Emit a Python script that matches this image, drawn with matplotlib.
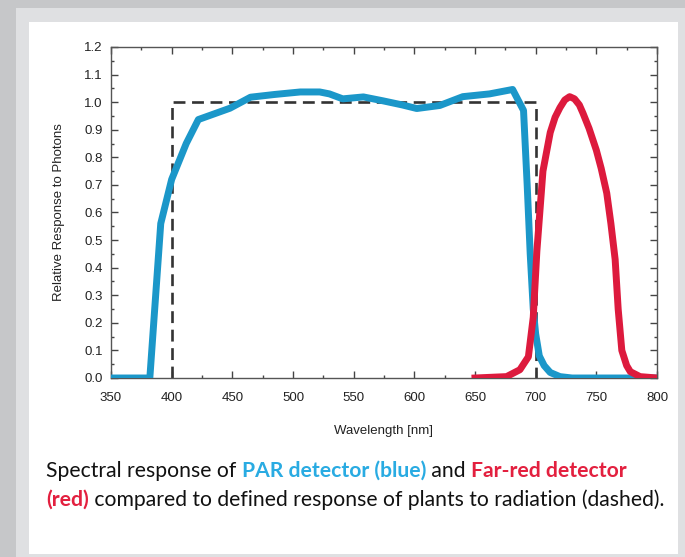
import matplotlib
matplotlib.use("Agg")
import matplotlib.pyplot as plt
from matplotlib.patches import Rectangle
from matplotlib.ticker import MultipleLocator

plt.rcParams["font.family"] = ["Liberation Sans", "DejaVu Sans"]

# PAR detector (blue)
par_wl = [350, 382, 391, 400, 412, 422, 448, 465, 485, 506, 522, 530, 541, 558, 574,
          590, 602, 621, 640, 662, 681, 690, 693, 695.5, 698, 700, 703, 707, 712, 720, 730, 800]
par_resp = [0.0, 0.0, 0.56, 0.72, 0.85, 0.937, 0.978, 1.018, 1.028, 1.037, 1.037, 1.03,
            1.012, 1.019, 1.005, 0.99, 0.977, 0.988, 1.02, 1.03, 1.046, 0.97, 0.7, 0.45,
            0.25, 0.16, 0.08, 0.045, 0.02, 0.005, 0.0, 0.0]

# Far-red detector (red)
fr_wl = [650, 676, 687, 694, 698, 701, 706, 712, 716, 720, 724, 728, 732, 736, 739, 744,
         750, 754, 758.6, 762, 765.5, 768, 771, 775, 778, 786, 800]
fr_resp = [0.0, 0.005, 0.03, 0.077, 0.22, 0.46, 0.75, 0.89, 0.945, 0.98, 1.008, 1.02,
           1.012, 0.99, 0.96, 0.905, 0.826, 0.76, 0.67, 0.56, 0.43, 0.25, 0.1, 0.045,
           0.023, 0.005, 0.0]

# plant response (dashed)
plant_wl = [400, 400, 700, 700]
plant_resp = [0.0, 1.0, 1.0, 0.0]

W, H = 685, 557
fig = plt.figure(figsize=(W / 100, H / 100), dpi=100, facecolor="#c6c7c9")

# page frame
fig.add_artist(Rectangle((16 / W, 0), 1, 1 - 8 / H, transform=fig.transFigure,
                         facecolor="#dfe0e2", edgecolor="none", zorder=0))
fig.add_artist(Rectangle((29 / W, 1 - 554 / H), (678 - 29) / W, (554 - 22) / H,
                         transform=fig.transFigure, facecolor="white",
                         edgecolor="none", zorder=0))

ax = fig.add_axes([111 / W, 1 - 378 / H, (657 - 111) / W, (378 - 47) / H])
ax.set_facecolor("white")

ax.plot(plant_wl, plant_resp, color="#333333", lw=1.9, dashes=(4.5, 2.5), zorder=2)
ax.plot(par_wl, par_resp, color="#1b97c9", lw=5, solid_joinstyle="round", zorder=3)
ax.plot(fr_wl, fr_resp, color="#dd1a3d", lw=5, solid_joinstyle="round", zorder=4)

ax.set_xlim(350, 800)
ax.set_ylim(0, 1.2)
ax.xaxis.set_major_locator(MultipleLocator(50))
ax.xaxis.set_minor_locator(MultipleLocator(25))
ax.yaxis.set_major_locator(MultipleLocator(0.1))
ax.yaxis.set_minor_locator(MultipleLocator(0.05))
ax.yaxis.set_major_formatter(matplotlib.ticker.FormatStrFormatter("%.1f"))
ax.tick_params(which="both", direction="in", top=True, right=True,
               color="#444444", labelsize=9.5, labelcolor="#222222")
ax.tick_params(which="major", length=5, width=1)
ax.tick_params(axis="x", which="major", pad=10)
ax.tick_params(axis="y", which="major", pad=6)
ax.tick_params(which="minor", length=2.5, width=1)
for s in ax.spines.values():
    s.set_color("#555555")
    s.set_linewidth(1)

ax.set_xlabel("Wavelength [nm]", fontsize=9.5, color="#222222", labelpad=15)
ax.set_ylabel("Relative Response to Photons", fontsize=9.5, color="#222222", labelpad=14)

# caption with coloured parts
cap_font = ["Lato", "DejaVu Sans"]
cap_size = 15.2
lines = [
    [("Spectral response of ", "#111111", "normal"),
     ("PAR detector (blue)", "#29abe2", "bold"),
     (" and ", "#111111", "normal"),
     ("Far-red detector", "#e3203f", "bold")],
    [("(red)", "#e3203f", "bold"),
     (" compared to defined response of plants to radiation (dashed).", "#111111", "normal")],
]
renderer = fig.canvas.get_renderer()
baselines = [477, 506]
for parts, yb in zip(lines, baselines):
    x = 46
    for txt, col, wt in parts:
        t = fig.text(x / W, 1 - yb / H, txt, color=col, fontsize=cap_size,
                     fontweight=wt, family=cap_font, va="baseline", ha="left")
        bb = t.get_window_extent(renderer=renderer)
        x += bb.width

fig.savefig("out.png", dpi=100, facecolor=fig.get_facecolor())
